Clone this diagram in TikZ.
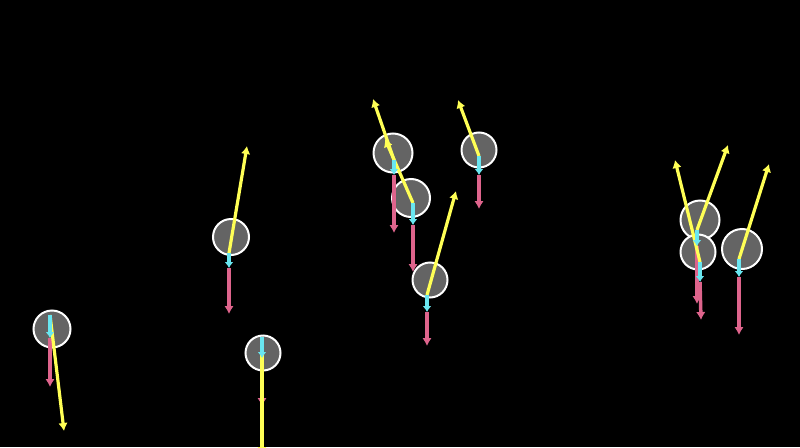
\documentclass[tikz,border=0pt]{standalone}
\usetikzlibrary{arrows.meta}
\definecolor{velc}{RGB}{255,255,85}
\definecolor{gravc}{RGB}{222,100,140}
\definecolor{forcec}{RGB}{105,230,240}
\definecolor{ballc}{RGB}{100,100,100}
\tikzset{
  ball/.style={circle, draw=white, line width=2pt, fill=ballc, inner sep=0pt, minimum size=#1},
  velarrow/.style={draw=velc, line width=3.2pt, -{Latex[length=8pt,width=9.5pt]}},
  gravarrow/.style={draw=gravc, line width=3.5pt, -{Latex[length=8pt,width=9.5pt]}},
  forcearrow/.style={draw=forcec, line width=4pt, -{Latex[length=6pt,width=9pt]}},
}
\begin{document}
\begin{tikzpicture}[x=1pt,y=-1pt]
\fill[black] (0,0) rectangle (800,447);
\useasboundingbox (0,0) rectangle (800,447);
\clip (0,0) rectangle (800,447);
% balls
\node[ball=37pt] (aB) at (52,329) {};
\node[ball=36pt] (bB) at (231,237) {};
\node[ball=35pt] (cB) at (263,353) {};
\node[ball=35pt] (dB) at (479,150) {};
\node[ball=39pt] (eB) at (393,153) {};
\node[ball=38pt] (fB) at (411,198) {};
\node[ball=35pt] (gB) at (430,280) {};
\node[ball=39pt] (hB) at (700,220) {};
\node[ball=35pt] (iB) at (698,252) {};
\node[ball=40pt] (jB) at (742,249) {};
% origins, force ends, gravity ends, velocity ends
\coordinate (aO) at (50,315); \coordinate (aC) at (50,338); \coordinate (aP) at (50,387); \coordinate (aV) at (64,431);
\coordinate (bO) at (229,253); \coordinate (bC) at (229,268); \coordinate (bP) at (229,314); \coordinate (bV) at (247,146);
\coordinate (cO) at (262,337); \coordinate (cC) at (262,358); \coordinate (cP) at (262,406); \coordinate (cV) at (262,455);
\coordinate (dO) at (479,156); \coordinate (dC) at (479,175); \coordinate (dP) at (479,209); \coordinate (dV) at (458,100);
\coordinate (eO) at (394,160); \coordinate (eC) at (394,175); \coordinate (eP) at (394,233); \coordinate (eV) at (373,99);
\coordinate (fO) at (413,203); \coordinate (fC) at (413,225); \coordinate (fP) at (413,272); \coordinate (fV) at (385,139);
\coordinate (gO) at (427,295); \coordinate (gC) at (427,312); \coordinate (gP) at (427,346); \coordinate (gV) at (456,191);
\coordinate (hO) at (697,230); \coordinate (hC) at (697,246); \coordinate (hP) at (697,304); \coordinate (hV) at (728,145);
\coordinate (iO) at (700,262); \coordinate (iC) at (700,282); \coordinate (iP) at (701,320); \coordinate (iV) at (675,160);
\coordinate (jO) at (739,259); \coordinate (jC) at (739,277); \coordinate (jP) at (739,335); \coordinate (jV) at (769,164);
% gravity
\foreach \b in {a,b,c,d,e,f,g,h,i,j} {\draw[gravarrow] (\b C) -- (\b P);}
% velocity
\foreach \b in {a,b,c,d,e,f,g,h,i,j} {\draw[velarrow] (\b O) -- (\b V);}
% force
\foreach \b in {a,b,c,d,e,f,g,h,i,j} {\draw[forcearrow] (\b O) -- (\b C);}
\end{tikzpicture}
\end{document}
